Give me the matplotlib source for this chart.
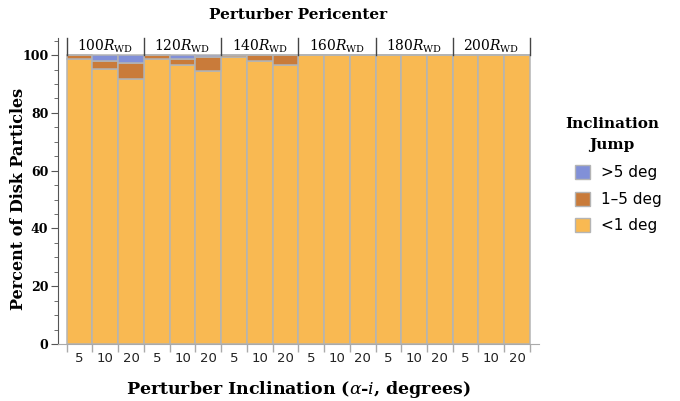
import numpy as np
import matplotlib
matplotlib.use("Agg")
import matplotlib.pyplot as plt
from matplotlib.patches import Patch
from matplotlib.ticker import MultipleLocator, FixedLocator

# ================================================================
# DATA (percent of disk particles per inclination-jump class)
# ================================================================
pericenters = ["100", "120", "140", "160", "180", "200"]
inclinations = ["5", "10", "20"]

below_1 = [98.6, 95.2, 91.9,
           98.6, 96.6, 94.5,
           99.4, 98.0, 96.6,
           100.0, 100.0, 100.0,
           100.0, 100.0, 100.0,
           100.0, 100.0, 100.0]
from_1_to_5 = [1.4, 2.8, 5.4,
               1.4, 2.2, 4.9,
               0.6, 2.0, 3.4,
               0.0, 0.0, 0.0,
               0.0, 0.0, 0.0,
               0.0, 0.0, 0.0]
above_5 = [0.0, 2.0, 2.7,
           0.0, 1.2, 0.6,
           0.0, 0.0, 0.0,
           0.0, 0.0, 0.0,
           0.0, 0.0, 0.0,
           0.0, 0.0, 0.0]

c_low = '#f9b952'
c_mid = '#c97b3a'
c_high = '#8190d8'
edge = '#b4b4b4'

serif = 'DejaVu Serif'
plt.rcParams['mathtext.fontset'] = 'dejavuserif'

fig = plt.figure(figsize=(6.8, 4.01), dpi=100)
ax = fig.add_axes([0.0853, 0.142, 0.7073, 0.763])

n_groups = len(pericenters)
n_inc = len(inclinations)
x = np.arange(n_groups * n_inc)
low = np.array(below_1)
mid = np.array(from_1_to_5)
high = np.array(above_5)

ax.bar(x, low, width=1.0, color=c_low, edgecolor=edge, linewidth=1.1)
ax.bar(x, mid, width=1.0, bottom=low, color=c_mid, edgecolor=edge, linewidth=1.1)
ax.bar(x, high, width=1.0, bottom=low + mid, color=c_high, edgecolor=edge, linewidth=1.1)

ax.set_xlim(-0.84, 17.85)
ax.set_ylim(0, 105.9)

# group separators and pericenter labels along the top
for g in range(n_groups + 1):
    xs = g * n_inc - 0.5
    ax.plot([xs, xs], [100, 105.9], color='#444444', lw=1.0, clip_on=False)
for g, p in enumerate(pericenters):
    ax.text(g * n_inc + 1, 103.0, p + r'$R_{\mathrm{WD}}$', ha='center', va='center',
            fontsize=10, family=serif)

# axes styling
for s in ['top', 'right']:
    ax.spines[s].set_visible(False)
ax.spines['left'].set_color('#555555')
ax.spines['bottom'].set_color('#aaaaaa')

ax.xaxis.set_major_locator(FixedLocator(x))
ax.set_xticklabels(inclinations * n_groups, fontsize=9.5, family='DejaVu Sans', color='#222222')
ax.xaxis.set_minor_locator(FixedLocator(np.arange(-0.5, 18, 1.0)))
ax.tick_params(axis='x', which='major', length=0, pad=6)
ax.tick_params(axis='x', which='minor', length=6, color='#aaaaaa', width=1.0)

ax.yaxis.set_major_locator(MultipleLocator(20))
ax.yaxis.set_minor_locator(MultipleLocator(5))
ax.set_yticks(np.arange(0, 101, 20))
ax.tick_params(axis='y', which='major', length=5, color='#555555', pad=2)
ax.tick_params(axis='y', which='minor', length=3, color='#555555')
for lbl in ax.get_yticklabels():
    lbl.set_fontfamily(serif)
    lbl.set_fontweight('bold')
    lbl.set_fontsize(9)

ax.set_ylabel('Percent of Disk Particles', family=serif, fontweight='bold', fontsize=11.5)
ax.yaxis.set_label_coords(-0.064, 0.474)
ax.set_xlabel(r'Perturber Inclination ($\alpha$-$i$, degrees)', family=serif,
              fontweight='bold', fontsize=12.5, labelpad=10)
ax.set_title('Perturber Pericenter', family=serif, fontweight='bold', fontsize=11, pad=14)

handles = [Patch(facecolor=c_high, edgecolor=edge, label='>5 deg'),
           Patch(facecolor=c_mid, edgecolor=edge, label='1\u20135 deg'),
           Patch(facecolor=c_low, edgecolor=edge, label='<1 deg')]
fig.text(0.9, 0.665, 'Inclination\nJump', ha='center', va='center', family=serif,
         fontweight='bold', fontsize=11, linespacing=1.65)
fig.legend(handles=handles, loc='upper left', bbox_to_anchor=(0.825, 0.622),
           frameon=False, fontsize=11, handlelength=1.0, handleheight=1.0,
           handletextpad=0.7, labelspacing=0.75)

fig.savefig('out.png', dpi=100)
